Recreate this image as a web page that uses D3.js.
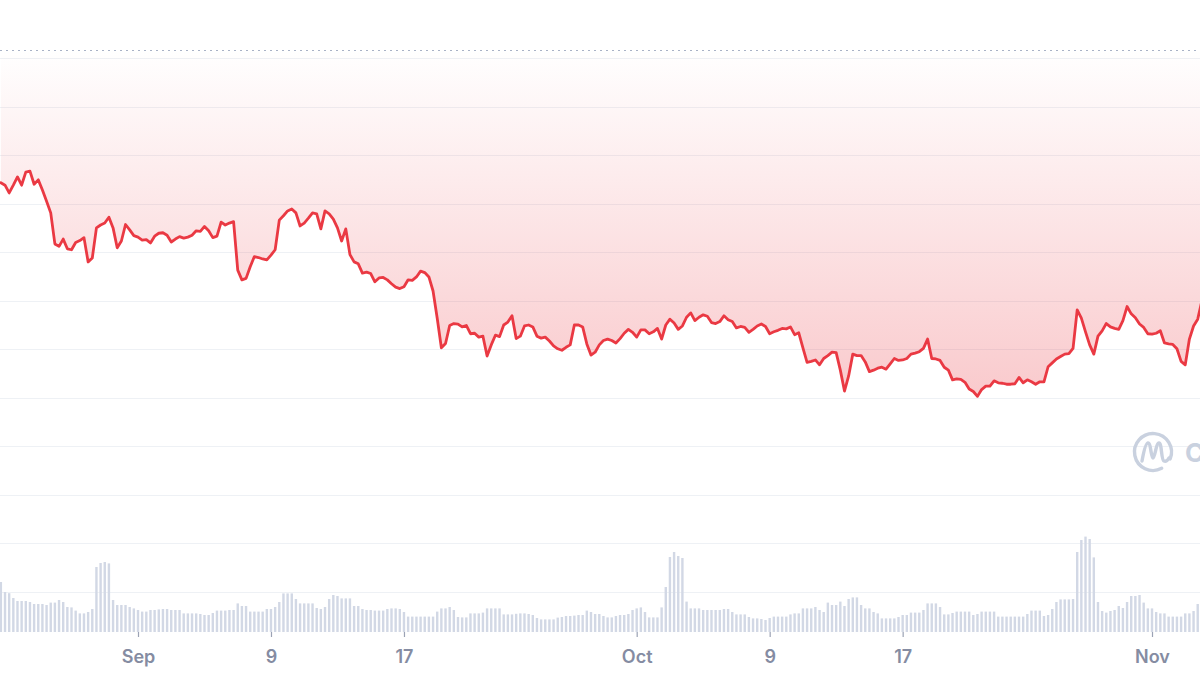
<!DOCTYPE html>
<html>
<head>
<meta charset="utf-8">
<script src="https://cdn.jsdelivr.net/npm/d3@7"></script>
<style>
  html, body { margin: 0; padding: 0; background: #ffffff; }
  svg { display: block; }
</style>
</head>
<body>
<svg id="chart" width="1200" height="675"></svg>
<script>
// ---------------- DATA ----------------
// 6-hourly samples starting 2023-08-23 18:00 UTC
const startTime = Date.UTC(2023, 7, 23, 18);
const stepHours = 6;

// price (USD) at each 6h sample
const prices = [
  0.2843, 0.2838, 0.2822, 0.2838, 0.2855, 0.2838, 0.2865, 0.2867, 0.2840, 0.2849,
  0.2828, 0.2805, 0.2781, 0.2717, 0.2712, 0.2727, 0.2707, 0.2705, 0.2720, 0.2724,
  0.2730, 0.2680, 0.2688, 0.2750, 0.2756, 0.2760, 0.2772, 0.2750, 0.2709, 0.2723,
  0.2757, 0.2746, 0.2734, 0.2731, 0.2725, 0.2726, 0.2719, 0.2733, 0.2739, 0.2740,
  0.2735, 0.2721, 0.2727, 0.2732, 0.2729, 0.2731, 0.2735, 0.2744, 0.2743, 0.2753,
  0.2744, 0.2730, 0.2733, 0.2762, 0.2756, 0.2760, 0.2763, 0.2663, 0.2643, 0.2646,
  0.2670, 0.2691, 0.2689, 0.2686, 0.2684, 0.2694, 0.2705, 0.2766, 0.2775, 0.2785,
  0.2789, 0.2781, 0.2754, 0.2760, 0.2770, 0.2781, 0.2779, 0.2748, 0.2785, 0.2779,
  0.2768, 0.2750, 0.2723, 0.2748, 0.2695, 0.2680, 0.2676, 0.2657, 0.2659, 0.2656,
  0.2639, 0.2647, 0.2648, 0.2643, 0.2635, 0.2628, 0.2625, 0.2629, 0.2643, 0.2642,
  0.2649, 0.2661, 0.2658, 0.2649, 0.2620, 0.2564, 0.2503, 0.2512, 0.2549, 0.2553,
  0.2552, 0.2546, 0.2549, 0.2532, 0.2533, 0.2525, 0.2527, 0.2486, 0.2509, 0.2529,
  0.2526, 0.2550, 0.2556, 0.2569, 0.2522, 0.2527, 0.2548, 0.2550, 0.2546, 0.2527,
  0.2523, 0.2525, 0.2517, 0.2507, 0.2501, 0.2498, 0.2504, 0.2509, 0.2550, 0.2550,
  0.2546, 0.2511, 0.2488, 0.2494, 0.2509, 0.2518, 0.2521, 0.2518, 0.2513, 0.2522,
  0.2533, 0.2541, 0.2535, 0.2525, 0.2540, 0.2540, 0.2532, 0.2536, 0.2543, 0.2521,
  0.2550, 0.2562, 0.2554, 0.2541, 0.2548, 0.2566, 0.2575, 0.2559, 0.2566, 0.2571,
  0.2568, 0.2555, 0.2553, 0.2557, 0.2569, 0.2561, 0.2557, 0.2544, 0.2547, 0.2545,
  0.2535, 0.2541, 0.2548, 0.2552, 0.2547, 0.2532, 0.2536, 0.2539, 0.2543, 0.2542,
  0.2546, 0.2530, 0.2534, 0.2503, 0.2473, 0.2475, 0.2478, 0.2468, 0.2481, 0.2487,
  0.2494, 0.2493, 0.2457, 0.2414, 0.2445, 0.2490, 0.2487, 0.2487, 0.2474, 0.2454,
  0.2457, 0.2461, 0.2463, 0.2459, 0.2470, 0.2481, 0.2477, 0.2478, 0.2481, 0.2490,
  0.2492, 0.2495, 0.2502, 0.2521, 0.2481, 0.2480, 0.2477, 0.2463, 0.2457, 0.2437,
  0.2439, 0.2438, 0.2432, 0.2418, 0.2413, 0.2403, 0.2417, 0.2424, 0.2424, 0.2435,
  0.2431, 0.2430, 0.2428, 0.2428, 0.2429, 0.2442, 0.2431, 0.2437, 0.2433, 0.2428,
  0.2433, 0.2433, 0.2464, 0.2472, 0.2480, 0.2485, 0.2490, 0.2491, 0.2502, 0.2581,
  0.2564, 0.2536, 0.2509, 0.2490, 0.2527, 0.2538, 0.2553, 0.2546, 0.2543, 0.2541,
  0.2559, 0.2588, 0.2573, 0.2565, 0.2552, 0.2545, 0.2532, 0.2531, 0.2533, 0.2538,
  0.2513, 0.2511, 0.2510, 0.2501, 0.2475, 0.2468, 0.2521, 0.2548, 0.2562, 0.2600
];

// trading volume (millions USD) at each 6h sample
const volumes = [
  25, 20, 19.4, 17, 15.5, 15.5, 15.5, 15, 14, 14,
  14, 13.5, 14.7, 14.7, 16, 15, 12.5, 12.3, 10.7, 9.3,
  9.3, 10, 11.5, 32.5, 34.5, 35, 34.3, 16, 13.5, 13.5,
  13.5, 12.5, 11.8, 11, 10.2, 10.2, 11, 11, 11.3, 11.5,
  11.5, 11, 11, 11, 9.3, 9.3, 9.3, 9.3, 9, 8.5,
  8.5, 9.5, 10.7, 10.7, 10.7, 11, 11, 14.3, 13, 13,
  10.2, 10.2, 10.2, 10.2, 11.5, 11.5, 12.5, 15, 19.3, 19.3,
  19.3, 16.5, 14.3, 14.3, 14.3, 14.3, 12, 11.5, 12.5, 16.5,
  18.5, 18, 16.8, 16.8, 16.8, 13, 13, 11.5, 11, 11,
  10.7, 10.7, 10.7, 11.5, 11.8, 11.8, 11.5, 10, 7.7, 7.7,
  7.7, 7.7, 7.7, 7.7, 7.7, 10.2, 11.8, 11.8, 12.5, 11,
  7.5, 7.3, 7.3, 9.3, 9.3, 9.3, 9.7, 11.8, 11.8, 11.8,
  11.8, 8.8, 8.8, 8.8, 9.1, 9.3, 9.3, 9, 8.5, 7,
  6.3, 6.3, 6.3, 6.3, 7.2, 7.5, 8, 8, 8.2, 8.5,
  8.5, 10.7, 10, 9, 9, 8, 7.3, 7.3, 8, 8.5,
  8.5, 9, 11, 11.8, 12.3, 10, 7.3, 7.3, 7.3, 12.3,
  22.5, 37.5, 40, 38, 37, 15.2, 11.8, 11.8, 11.8, 11,
  11, 11, 11, 11, 11.5, 11.5, 10, 8.8, 8.8, 8.8,
  7.5, 6.8, 6.8, 6.5, 6, 7, 7.7, 7.7, 7.7, 7.7,
  8.8, 9.3, 9.3, 11.8, 11.8, 11.8, 12.5, 11, 10, 14.7,
  13.5, 13.5, 15.2, 13, 16.5, 17.3, 17.3, 13.5, 11.8, 11.8,
  10, 9.3, 6.8, 6.8, 6.8, 6.8, 7.5, 8.5, 8.5, 9.7,
  9.7, 9.7, 11, 14.3, 14.3, 14.3, 12.5, 8.8, 8.8, 9.5,
  10.2, 10.2, 10.2, 10.2, 8.5, 9, 10.2, 10.2, 10.2, 10.2,
  7.7, 7.7, 7.7, 7.7, 7.7, 7.7, 7.7, 9, 10.7, 10.7,
  10.7, 8, 8.5, 11.5, 15, 16.3, 16.3, 16.3, 16.5, 40,
  46, 47.7, 46.5, 37.3, 15, 10.5, 9.7, 10.5, 11, 13,
  12, 15, 18, 18, 18.5, 14.7, 11.8, 11.8, 10, 9.3,
  9.3, 7.7, 7.7, 7.7, 7.7, 9.3, 9.3, 10.5, 14, 15.2
];

// reference (period open) price shown as the dotted baseline
const basePrice = 0.3117;

// x-axis ticks
const tickDates = ["2023-09-01", "2023-09-09", "2023-09-17", "2023-10-01", "2023-10-09", "2023-10-17", "2023-11-01"];
const tickLabels = ["Sep", "9", "17", "Oct", "9", "17", "Nov"];

// ---------------- CHART ----------------
const W = 1200, H = 675;
const svg = d3.select("#chart");

const data = prices.map((p, i) => ({
  date: new Date(startTime + i * stepHours * 3600e3),
  price: p,
  volume: volumes[i]
}));

const x = d3.scaleUtc()
  .domain([Date.UTC(2023, 8, 1), Date.UTC(2023, 10, 1)])
  .range([138, 1152]);

const yPrice = d3.scaleLinear().domain([0.20, 0.31]).range([592, 58]);
const yVol = d3.scaleLinear().domain([0, 60]).range([632, 512]);

const red = "#ea3943";

// gradient for the area between the line and the baseline
const defs = svg.append("defs");
const grad = defs.append("linearGradient")
  .attr("id", "redFill")
  .attr("gradientUnits", "userSpaceOnUse")
  .attr("x1", 0).attr("x2", 0)
  .attr("y1", yPrice(basePrice)).attr("y2", yPrice(0.24));
grad.append("stop").attr("offset", 0).attr("stop-color", red).attr("stop-opacity", 0.0);
grad.append("stop").attr("offset", 1).attr("stop-color", red).attr("stop-opacity", 0.27);

// grid lines
svg.append("g")
  .selectAll("line")
  .data(yPrice.ticks(11))
  .join("line")
  .attr("x1", 0).attr("x2", W)
  .attr("y1", d => Math.round(yPrice(d)) + 0.5)
  .attr("y2", d => Math.round(yPrice(d)) + 0.5)
  .attr("stroke", "#eef1f5")
  .attr("stroke-width", 1);

// area between price and baseline
const area = d3.area()
  .x(d => x(d.date))
  .y0(yPrice(basePrice))
  .y1(d => yPrice(d.price));

svg.append("path")
  .datum(data)
  .attr("d", area)
  .attr("fill", "url(#redFill)");

// dotted baseline
svg.append("line")
  .attr("x1", 0).attr("x2", W)
  .attr("y1", Math.round(yPrice(basePrice)) + 0.5)
  .attr("y2", Math.round(yPrice(basePrice)) + 0.5)
  .attr("stroke", "#a9b2c6")
  .attr("stroke-width", 1)
  .attr("stroke-dasharray", "2,4");

// volume bars
const barW = 2.4;
svg.append("g")
  .selectAll("rect")
  .data(data)
  .join("rect")
  .attr("x", d => x(d.date) - barW / 2)
  .attr("y", d => yVol(d.volume))
  .attr("width", barW)
  .attr("height", d => yVol(0) - yVol(d.volume))
  .attr("fill", "#d2d8e5");

// price line
const line = d3.line()
  .x(d => x(d.date))
  .y(d => yPrice(d.price));

svg.append("path")
  .datum(data)
  .attr("d", line)
  .attr("fill", "none")
  .attr("stroke", red)
  .attr("stroke-width", 2.8)
  .attr("stroke-linejoin", "round")
  .attr("stroke-linecap", "round");

// watermark (logo + wordmark, cropped by the right edge as in the reference)
const wm = svg.append("g").attr("fill", "none").attr("stroke", "#c9d1df").attr("stroke-width", 3.4)
  .attr("stroke-linecap", "round").attr("stroke-linejoin", "round");
const cx = 1153, cy = 452, r = 18.5;
const a0 = 62 * Math.PI / 180, a1 = 22 * Math.PI / 180;
wm.append("path")
  .attr("d", `M${cx + r * Math.cos(a0)},${cy + r * Math.sin(a0)} A${r},${r} 0 1 1 ${cx + r * Math.cos(a1)},${cy + r * Math.sin(a1)}`);
wm.append("path")
  .attr("d", `M${cx - 11},${cy + 9} C${cx - 9},${cy - 2} ${cx - 7},${cy - 9} ${cx - 5},${cy - 9}
              C${cx - 2},${cy - 9} ${cx - 2},${cy + 6} ${cx},${cy + 6}
              C${cx + 2},${cy + 6} ${cx + 3},${cy - 9} ${cx + 6},${cy - 9}
              C${cx + 9},${cy - 9} ${cx + 8},${cy + 8} ${cx + 11},${cy + 9}
              C${cx + 13},${cy + 10} ${cx + 15},${cy + 8} ${cx + 16},${cy + 6}`);
svg.append("text")
  .attr("x", 1185).attr("y", 462)
  .attr("font-family", "Inter, 'Open Sans', sans-serif")
  .attr("font-weight", 700)
  .attr("font-size", 26)
  .attr("fill", "#c9d1df")
  .text("CoinMarketCap");

// x axis
const tickData = tickDates.map((d, i) => ({ date: new Date(d + "T00:00:00Z"), label: tickLabels[i] }));
const axis = d3.axisBottom(x)
  .tickValues(tickData.map(d => d.date))
  .tickFormat((d, i) => tickLabels[i])
  .tickSize(5)
  .tickPadding(13);

const gAxis = svg.append("g")
  .attr("transform", `translate(0,${yVol(0)})`)
  .call(axis);
gAxis.select(".domain").remove();
gAxis.selectAll(".tick line").attr("stroke", "#9ba2b4").attr("stroke-width", 1.2);
gAxis.selectAll(".tick text")
  .attr("font-family", "Inter, 'Open Sans', sans-serif")
  .attr("font-weight", 600)
  .attr("font-size", 18)
  .attr("fill", "#858ca2");
</script>
</body>
</html>
